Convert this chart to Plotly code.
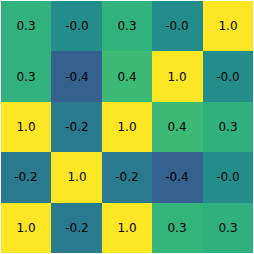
import plotly.graph_objects as go

rows = ["r0", "r1", "r2", "r3", "r4"]
cols = ["c0", "c1", "c2", "c3", "c4"]
values = [
    [0.29, -0.02, 0.29, -0.02, 1.0],
    [0.29, -0.38, 0.36, 1.0, -0.02],
    [1.0, -0.18, 1.0, 0.36, 0.27],
    [-0.18, 1.0, -0.18, -0.38, -0.02],
    [1.0, -0.18, 1.0, 0.31, 0.27],
]
labels = [[f"{v:.1f}" for v in row] for row in values]

fig = go.Figure(go.Heatmap(
    z=values, x=cols, y=rows,
    colorscale="Viridis", zmin=-1, zmax=1,
    showscale=False,
    text=labels,
    texttemplate="%{text}",
    textfont=dict(family="DejaVu Sans", size=12, color="black"),
    hoverinfo="skip",
))
fig.update_yaxes(autorange="reversed", visible=False)
fig.update_xaxes(visible=False)
fig.update_layout(
    width=254, height=254,
    margin=dict(l=1, r=1, t=1, b=1),
    paper_bgcolor="white", plot_bgcolor="white",
)
fig.write_html(
    "out.html",
    config={"displayModeBar": False, "staticPlot": True},
    post_script="document.body.style.margin='0';document.body.style.overflow='hidden';",
)
